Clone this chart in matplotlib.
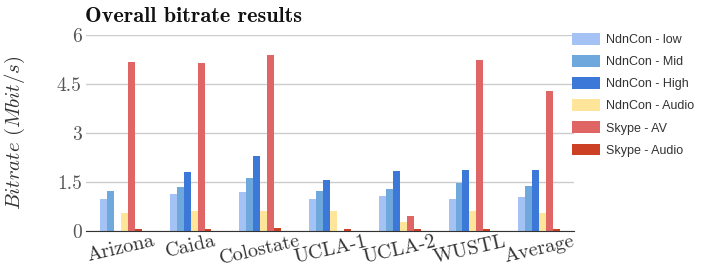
import numpy as np
import matplotlib
matplotlib.use('Agg')
import matplotlib.pyplot as plt

# ----------------------------
sites   = ['Arizona', 'Caida', 'Colostate', 'UCLA-1', 'UCLA-2', 'WUSTL', 'Average']
series  = ['NdnCon - low', 'NdnCon - Mid', 'NdnCon - High', 'NdnCon - Audio', 'Skype - AV', 'Skype - Audio']
colors  = ['#a4c2f4', '#6fa8dc', '#3c78d8', '#ffe599', '#e06666', '#cc4125']

ndn_low   = [0.98, 1.13, 1.19, 0.98, 1.07, 0.98, 1.04]
ndn_mid   = [1.22, 1.35, 1.62, 1.22, 1.29, 1.47, 1.38]
ndn_high  = [0.00, 1.81, 2.30, 1.56, 1.84, 1.87, 1.87]
ndn_audio = [0.56, 0.61, 0.61, 0.61, 0.28, 0.61, 0.55]
skype_av  = [5.17, 5.14, 5.39, 0.00, 0.46, 5.23, 4.29]
skype_aud = [0.06, 0.06, 0.09, 0.06, 0.06, 0.06, 0.06]

yticks  = [0, 1.5, 3, 4.5, 6]
# ----------------------------
plt.rcParams['mathtext.fontset'] = 'cm'

fig = plt.figure(figsize=(7.02, 2.69), dpi=100)
ax  = fig.add_axes([0.1225, 0.1413, 0.6952, 0.7286])

l_val = [ndn_low, ndn_mid, ndn_high, ndn_audio, skype_av, skype_aud]
x     = np.arange(len(sites))
width = 0.1
for i, (vals, name, col) in enumerate(zip(l_val, series, colors)):
    ax.bar(x - 0.25 + i * width, vals, width=width, color=col, label=name, zorder=3)

ax.set_xlim(-0.5, len(sites) - 0.5)
ax.set_ylim(0, 6)
ax.set_yticks(yticks)
ax.set_yticklabels(['0', '1.5', '3', '4.5', '6'], family='cmr10', fontsize=14, color='#555555')
ax.set_xticks(x)
ax.set_xticklabels(sites, family='cmr10', fontsize=14.5, rotation=13, color='#333333')
ax.tick_params(axis='y', length=0, pad=3)
ax.tick_params(axis='x', length=0, pad=1)
ax.grid(axis='y', color='#cccccc', linewidth=1, zorder=0)
for side in ['top', 'right', 'left']:
    ax.spines[side].set_visible(False)
ax.spines['bottom'].set_color('#333333')
ax.spines['bottom'].set_zorder(4)

ax.set_ylabel(r'$Bitrate\ (Mbit/s)$', fontsize=15, color='#333333')
ax.yaxis.set_label_coords(-0.121, 0.5)
fig.text(0.121, 0.92, 'Overall bitrate results', family='cmb10', fontsize=16, color='#111111')

fig.legend(loc='upper left', bbox_to_anchor=(0.808, 0.895), frameon=False,
           prop={'family': 'Liberation Sans', 'size': 9}, labelcolor='#333333',
           handlelength=2.2, handleheight=1.05, labelspacing=0.72, handletextpad=0.5,
           borderaxespad=0)

fig.savefig('out.png', dpi=100)
